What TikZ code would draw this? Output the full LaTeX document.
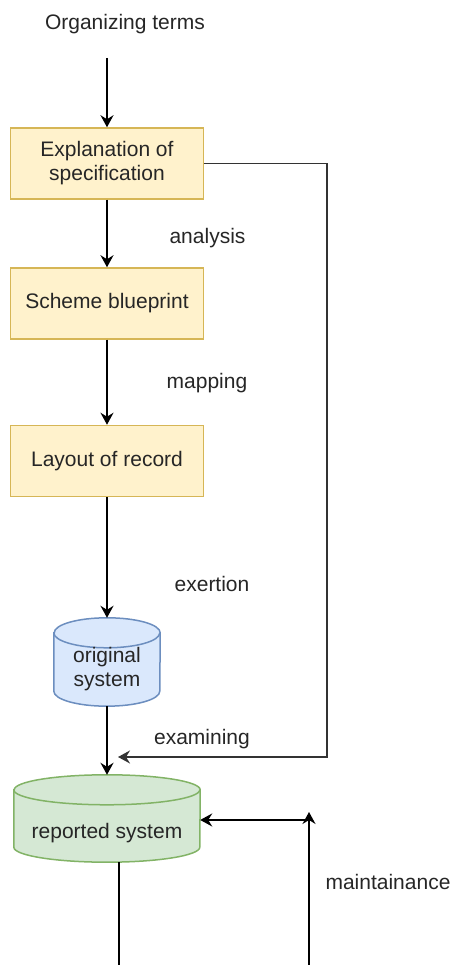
\documentclass[tikz,border=0pt]{standalone}
\usepackage{fontspec}
\setmainfont{Liberation Sans}
\usepackage{tikz}
\usetikzlibrary{calc,arrows.meta}

\definecolor{stepfill}{HTML}{FFF2CC}
\definecolor{stepline}{HTML}{D6B656}
\definecolor{origfill}{HTML}{DAE8FC}
\definecolor{origline}{HTML}{6C8EBF}
\definecolor{repfill}{HTML}{D5E8D4}
\definecolor{repline}{HTML}{82B366}

% drum: node name, half width, end radius, colours
\newcommand{\drum}[5]{%
  \filldraw[fill=#4, draw=#5, line width=1.5pt]
    ($ (#1.north west) - (0,#3) $) -- ($ (#1.south west) + (0,#3) $)
    arc[start angle=180, end angle=360, x radius=#2, y radius=#3]
    -- ($ (#1.north east) - (0,#3) $)
    arc[start angle=0, end angle=180, x radius=#2, y radius=#3] -- cycle;
  \draw[draw=#5, line width=1.5pt] ($ (#1.north west) - (0,#3) $)
    arc[start angle=180, end angle=360, x radius=#2, y radius=#3];
}

\begin{document}
\begin{tikzpicture}[x=1pt,y=1pt,
  every node/.style={font=\fontsize{21}{24}\selectfont, text=black!85},
  stepbox/.style={draw=stepline, fill=stepfill, line width=1.5pt,
    minimum width=193pt, minimum height=71pt, align=center, inner sep=0pt},
  drumbox/.style={minimum height=#1, inner sep=0pt, align=center},
  flow/.style={line width=1.8pt, -{Stealth[length=12pt,width=13pt,inset=4pt]}},
  plain/.style={line width=1.8pt}]
\useasboundingbox (0,0) rectangle (451,965);

\node (terms) at (125,941) {Organizing terms};
\coordinate (terms_end) at (107,907); % arrow starts below the text

% Steps of the design
\node[stepbox] (spec) at (107,801.5) {Explanation of\\specification};
\node[stepbox] (scheme) at (107,661.5) {Scheme blueprint};
\node[stepbox] (layout) at (107,504) {Layout of record};

% The two systems
\node[drumbox=88pt, minimum width=106pt] (orig) at (107,303) {};
\drum{orig}{53}{15}{origfill}{origline}
\node[align=center] at ($ (orig) + (0,-7) $) {original\\system};

\node[drumbox=87pt, minimum width=186pt] (rep) at (107,146.5) {};
\drum{rep}{93}{15}{repfill}{repline}
\node at ($ (rep) + (0,-15) $) {reported system};

\draw[flow] (terms_end) to (spec.north -| terms_end);
\draw[flow] (spec) to (scheme);
\draw[flow] (scheme) to (layout);
\draw[flow] (layout) to (orig);
\draw[flow] (orig) to (rep);

\node (analysis) at (207.5,727) {analysis};
\node (mapping) at (207,582) {mapping};
\node (exertion) at (212,381) {exertion};
\node (examining) at (202,226) {examining};
\node (maint) at (388,83) {maintainance};

% Feedback line round the right side
\coordinate (back_corner) at (327,208);
\coordinate (back_end) at (118,208);
\draw[flow, draw=black!80] (spec.east) -| (back_corner) to (back_end);

% Maintainance loop, cut off at the bottom
\coordinate (maint_bottom) at (309,0);
\coordinate (maint_top) at (309,153);
\coordinate (rep_out) at (119,0);
\draw[flow] (maint_bottom) to (maint_top);
\draw[flow] ($ (maint_top) - (0,8) $) to ($ (rep.east) - (0,1.5) $);
\draw[plain] (rep.south -| rep_out) to (rep_out);
\end{tikzpicture}
\end{document}
